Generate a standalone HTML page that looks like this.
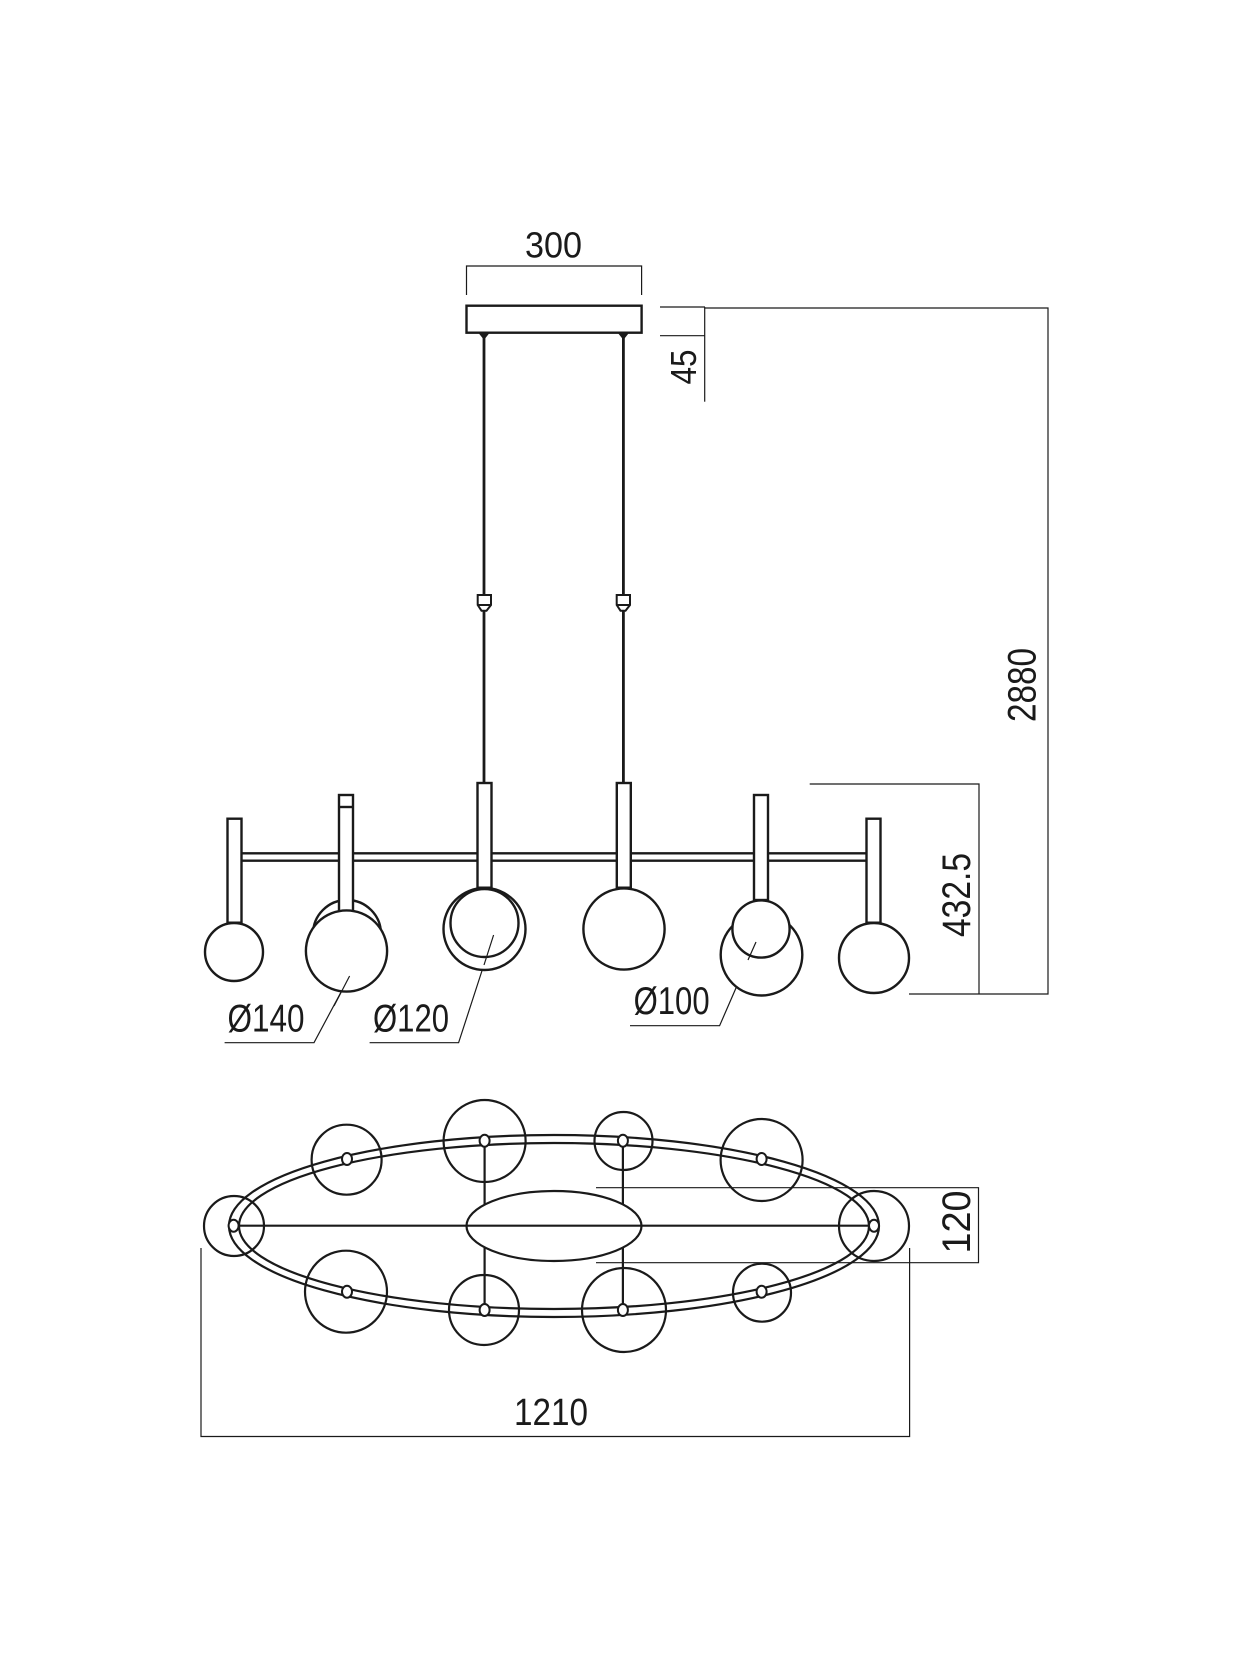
<!DOCTYPE html>
<html><head><meta charset="utf-8"><style>
html,body{margin:0;padding:0;background:#fff;}
svg{display:block;}
text{font-family:"Liberation Sans",sans-serif;fill:#1a1a1a;}
</style></head><body>
<svg width="1248" height="1663" viewBox="0 0 1248 1663" xmlns="http://www.w3.org/2000/svg">
<g fill="none" stroke="#1a1a1a" stroke-width="1.2">
<!-- 300 dim -->
<polyline points="466.5,295 466.5,266 641.6,266 641.6,295"/>
<!-- 45 dim -->
<line x1="660" y1="307" x2="705" y2="307"/>
<line x1="660" y1="335.7" x2="705" y2="335.7"/>
<line x1="704.7" y1="307" x2="704.7" y2="401.7"/>
<!-- 2880 dim -->
<polyline points="705,308 1048,308 1048,994 909,994"/>
<!-- 432.5 dim -->
<polyline points="809.7,784 979,784 979,994"/>
<!-- leaders -->
<polyline points="224.6,1042.7 314,1042.7 349.6,976"/>
<polyline points="369.6,1042.7 458.6,1042.7 493.6,935"/>
<polyline points="630,1025.7 719.6,1025.7 756,942"/>
<!-- plan dims -->
<polyline points="201,1248 201,1436.5 909.6,1436.5 909.6,1248"/>
<polyline points="596,1187.7 978.5,1187.7 978.5,1262.7 596,1262.7"/>
</g>

<g fill="none" stroke="#1a1a1a" stroke-width="2.4">
<!-- canopy -->
<rect x="466.5" y="305.7" width="175.1" height="27" fill="#fff"/>
<!-- cables -->
<line x1="484" y1="333" x2="484" y2="783" stroke-width="2.8"/>
<line x1="623.4" y1="333" x2="623.4" y2="783" stroke-width="2.8"/>
<path d="M480,333 L488,333 L484,338 Z" fill="#1a1a1a"/>
<path d="M619.4,333 L627.4,333 L623.4,338 Z" fill="#1a1a1a"/>
<path d="M477.7,595 H491 V605 L486.5,610.7 H481.5 L477.7,605 Z" fill="#fff" stroke-width="2"/>
<line x1="477.7" y1="605" x2="491" y2="605" stroke-width="2"/>
<path d="M616.7,595 H630 V605 L625.5,610.7 H620.5 L616.7,605 Z" fill="#fff" stroke-width="2"/>
<line x1="616.7" y1="605" x2="630" y2="605" stroke-width="2"/>

<!-- horizontal bar -->
<line x1="233" y1="853.3" x2="874" y2="853.3"/>
<line x1="233" y1="860.7" x2="874" y2="860.7"/>

<!-- back globes -->
<circle cx="347" cy="934" r="34" fill="#fff"/>
<circle cx="484.5" cy="929" r="41" fill="#fff"/>
<circle cx="761.5" cy="954.7" r="40.8" fill="#fff"/>

<!-- stems -->
<rect x="227.5" y="818.7" width="14" height="104" fill="#fff"/>
<rect x="339" y="795" width="14" height="116.7" fill="#fff"/>
<line x1="339" y1="807" x2="353" y2="807"/>
<rect x="477.5" y="783" width="14" height="104.7" fill="#fff"/>
<rect x="616.8" y="783" width="14" height="104.7" fill="#fff"/>
<rect x="754" y="795" width="14" height="105" fill="#fff"/>
<rect x="866.5" y="818.7" width="14" height="104" fill="#fff"/>

<!-- front globes -->
<circle cx="234" cy="952" r="29" fill="#fff"/>
<circle cx="346.5" cy="951" r="40.6" fill="#fff"/>
<circle cx="484.5" cy="923" r="34" fill="#fff"/>
<circle cx="624" cy="929" r="40.6" fill="#fff"/>
<circle cx="761" cy="929" r="28.6" fill="#fff"/>
<circle cx="874" cy="958" r="35" fill="#fff"/>
</g>
<g fill="none" stroke="#1a1a1a" stroke-width="1.2">
<line x1="349.6" y1="976" x2="334" y2="1006"/>
<line x1="493.6" y1="935" x2="484" y2="965"/>
<line x1="756" y1="942" x2="748" y2="960"/>
</g>

<!-- plan view -->
<g fill="none" stroke="#1a1a1a" stroke-width="2.2">
<circle cx="234" cy="1226" r="30"/>
<circle cx="874" cy="1226" r="35"/>
<circle cx="346.6" cy="1159.7" r="35"/>
<circle cx="484.6" cy="1141" r="41"/>
<circle cx="623.5" cy="1141" r="29"/>
<circle cx="761.6" cy="1160" r="41"/>
<circle cx="346" cy="1291.7" r="41"/>
<circle cx="484" cy="1310" r="35"/>
<circle cx="624" cy="1310" r="42"/>
<circle cx="762" cy="1292.7" r="29"/>
<ellipse cx="554" cy="1226" rx="325" ry="91"/>
<ellipse cx="554" cy="1226" rx="315" ry="83"/>
<line x1="484.6" y1="1141" x2="484.6" y2="1310"/>
<line x1="622.9" y1="1141" x2="622.9" y2="1310"/>
<ellipse cx="554" cy="1226" rx="87.5" ry="35" fill="#fff"/>
<line x1="233.6" y1="1225.7" x2="874" y2="1225.7"/>
<g fill="#fff" stroke-width="2">
<ellipse cx="233.6" cy="1225.7" rx="5" ry="6"/>
<ellipse cx="874" cy="1225.7" rx="5" ry="6"/>
<ellipse cx="347" cy="1159" rx="5" ry="6"/>
<ellipse cx="484.6" cy="1140.7" rx="5" ry="6"/>
<ellipse cx="622.9" cy="1140.7" rx="5" ry="6"/>
<ellipse cx="761.6" cy="1159" rx="5" ry="6"/>
<ellipse cx="347" cy="1291.7" rx="5" ry="6"/>
<ellipse cx="484.6" cy="1310" rx="5" ry="6"/>
<ellipse cx="622.9" cy="1310" rx="5" ry="6"/>
<ellipse cx="761.6" cy="1291.7" rx="5" ry="6"/>
</g>
</g>

<!-- texts -->
<text x="525" y="257.7" font-size="36" textLength="57" lengthAdjust="spacingAndGlyphs">300</text>
<text x="227.5" y="1031.7" font-size="39" textLength="77" lengthAdjust="spacingAndGlyphs">Ø140</text>
<text x="373" y="1031.7" font-size="39" textLength="76" lengthAdjust="spacingAndGlyphs">Ø120</text>
<text x="633.6" y="1014" font-size="39" textLength="76" lengthAdjust="spacingAndGlyphs">Ø100</text>
<text x="514" y="1425" font-size="38" textLength="74" lengthAdjust="spacingAndGlyphs">1210</text>
<text transform="translate(1035.5,685) rotate(-90)" text-anchor="middle" font-size="40" textLength="74" lengthAdjust="spacingAndGlyphs">2880</text>
<text transform="translate(970,895) rotate(-90)" text-anchor="middle" font-size="40" textLength="84" lengthAdjust="spacingAndGlyphs">432.5</text>
<text transform="translate(696,367) rotate(-90)" text-anchor="middle" font-size="36" textLength="35" lengthAdjust="spacingAndGlyphs">45</text>
<text transform="translate(970,1222) rotate(-90)" text-anchor="middle" font-size="40" textLength="63" lengthAdjust="spacingAndGlyphs">120</text>
</svg>
</body></html>
